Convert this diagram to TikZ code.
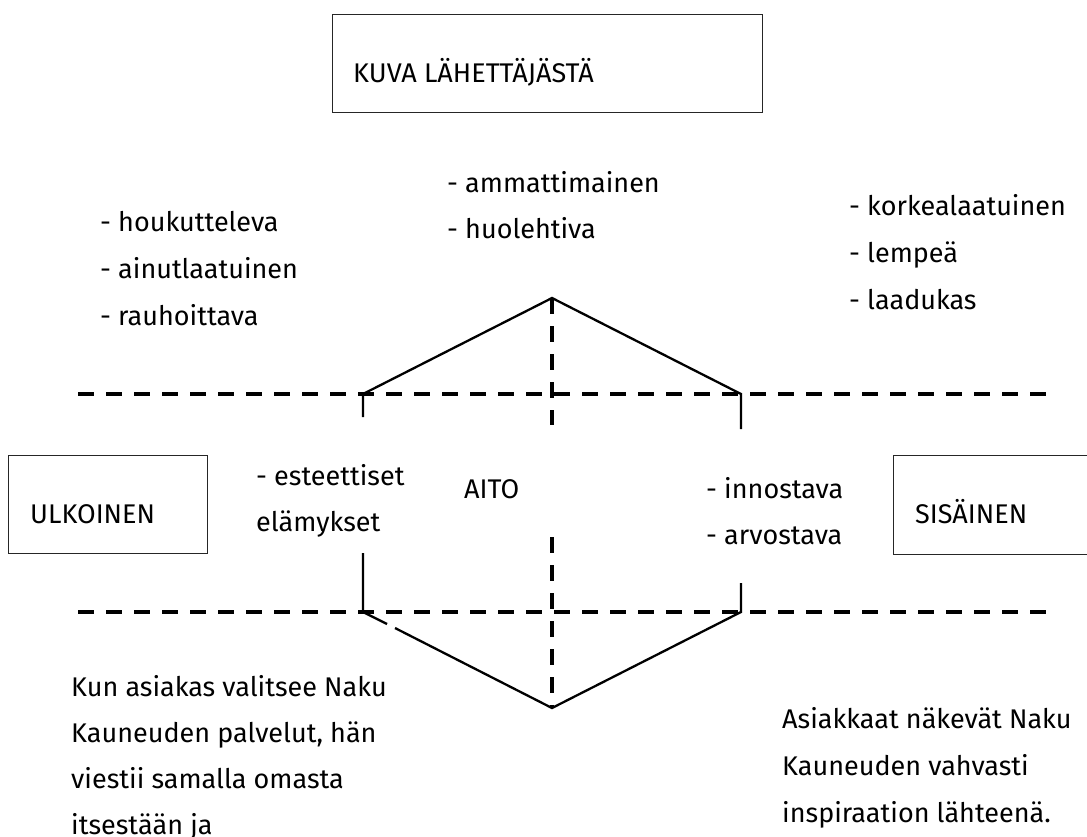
\documentclass[tikz,border=0pt]{standalone}
\usepackage{fontspec}
\setmainfont{Fira Sans}
\tikzset{dashline/.style = {line width=3.5pt, dash pattern=on 16pt off 12pt},
         hexline/.style = {line width=2.3pt, line join=miter},
         framebox/.style = {line width=1pt, draw=black!85},
         item/.style = {anchor=base west, inner sep=0pt, font=\fontsize{27}{32}\selectfont}}

\begin{document}
\begin{tikzpicture}[x=1pt,y=-1pt]
	\useasboundingbox (0,0) rectangle (1087,836);
\draw[framebox] (332,14) rectangle (762,112);
\node[item] (kuva) at (353,82) {KUVA LÄHETTÄJÄSTÄ};
\foreach \w [count=\i from 0] in {houkutteleva,ainutlaatuinen,rauhoittava}
	\node[item] (vasen\i) at (100,{231+47*\i}) {- \w};
\foreach \w [count=\i from 0] in {ammattimainen,huolehtiva}
	\node[item] (keski\i) at (447,{192+46*\i}) {- \w};
\foreach \w [count=\i from 0] in {korkealaatuinen,lempeä,laadukas}
	\node[item] (oikea\i) at (849,{215+47*\i}) {- \w};
\draw[dashline] (78,394) -- (1046,394);
\draw[dashline] (78,612) -- (1046,612);
\draw[dashline] (552,298) -- (552,425);
\draw[dashline] (552,537) -- (552,708);
\draw[hexline] (363,417) -- (363,394) -- (552,298) -- (741,394) -- (741,429);
\draw[hexline] (363,553) -- (363,612) -- (387,624);
\draw[hexline] (395,628) -- (552,708) -- (741,612) -- (741,583);
\draw[framebox] (8,455) rectangle (207,553);
\node[item] (ulkoinen) at (30,523) {ULKOINEN};
\draw[framebox] (893,455) rectangle (1095,554);
\node[item] (sisainen) at (915,523) {SISÄINEN};
\node[item] (esteet) at (256,485) {- esteettiset};
\node[item] (elamys) at (256,531) {elämykset};
\node[item] (aito) at (464,498) {AITO};
\node[item] (innos) at (706,498) {- innostava};
\node[item] (arvos) at (706,544) {- arvostava};
\foreach \w [count=\i from 0] in {Kun asiakas valitsee Naku,{Kauneuden palvelut, hän},viestii samalla omasta,itsestään ja}
	\node[item] (asiakas\i) at (71,{696+46*\i}) {\w};
\foreach \w [count=\i from 0] in {Asiakkaat näkevät Naku,Kauneuden vahvasti,inspiraation lähteenä.}
	\node[item] (nakevat\i) at (782,{728+47*\i}) {\w};
\end{tikzpicture}
\end{document}
